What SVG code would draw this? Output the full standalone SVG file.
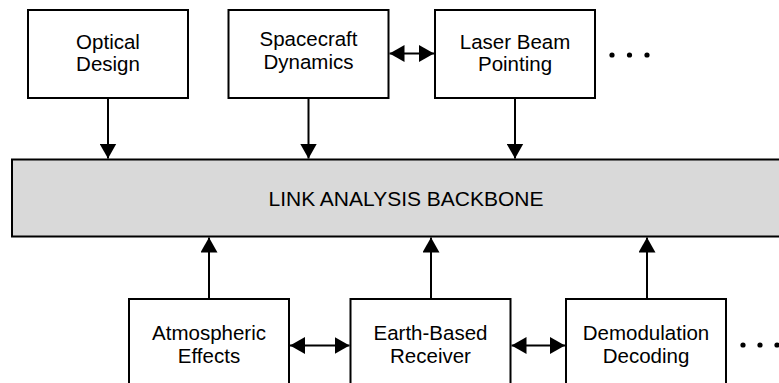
<svg xmlns="http://www.w3.org/2000/svg" width="779" height="383" viewBox="0 0 779 383">
  <style>
    .box { fill: #ffffff; stroke: #000000; stroke-width: 2; }
    .backbone { fill: #d9d9d9; stroke: #000000; stroke-width: 2; }
    .label { font-family: "Liberation Sans", Arial, sans-serif; font-size: 20.5px; fill: #000000; text-anchor: middle; }
    .title { font-family: "Liberation Sans", Arial, sans-serif; font-size: 21px; fill: #000000; text-anchor: middle; }
    .link { stroke: #000000; stroke-width: 2; fill: none; }
    .dot { fill: #000000; }
  </style>
  <defs>
    <marker id="arrow" markerUnits="userSpaceOnUse" markerWidth="15" markerHeight="17" refX="15" refY="8.5" orient="auto-start-reverse">
      <path d="M0,0 L15,8.5 L0,17 z" fill="#000000"/>
    </marker>
  </defs>

  <!-- central backbone bar -->
  <g id="backbone">
    <rect class="backbone" x="12" y="159.5" width="780" height="77"/>
    <text class="title" x="406" y="205.5">LINK ANALYSIS BACKBONE</text>
  </g>

  <!-- upper row -->
  <g id="optical-design">
    <rect class="box" x="28" y="10" width="160" height="88"/>
    <text class="label" x="108" y="49.3">Optical</text>
    <text class="label" x="108" y="71.3">Design</text>
  </g>
  <g id="spacecraft-dynamics">
    <rect class="box" x="228.5" y="10" width="160" height="88"/>
    <text class="label" x="308.5" y="46">Spacecraft</text>
    <text class="label" x="308.5" y="69.3">Dynamics</text>
  </g>
  <g id="laser-beam-pointing">
    <rect class="box" x="435" y="10" width="160" height="88"/>
    <text class="label" x="515" y="49.3">Laser Beam</text>
    <text class="label" x="515" y="71.3">Pointing</text>
  </g>
  <g id="upper-more">
    <circle class="dot" cx="612" cy="55" r="2.6"/>
    <circle class="dot" cx="629.5" cy="55" r="2.6"/>
    <circle class="dot" cx="647" cy="55" r="2.6"/>
  </g>

  <!-- lower row -->
  <g id="atmospheric-effects">
    <rect class="box" x="129" y="299" width="160" height="100"/>
    <text class="label" x="209" y="340">Atmospheric</text>
    <text class="label" x="209" y="363.3">Effects</text>
  </g>
  <g id="earth-based-receiver">
    <rect class="box" x="350.5" y="299" width="160" height="100"/>
    <text class="label" x="430.5" y="340">Earth-Based</text>
    <text class="label" x="430.5" y="363.3">Receiver</text>
  </g>
  <g id="demodulation-decoding">
    <rect class="box" x="566" y="299" width="160" height="100"/>
    <text class="label" x="646" y="339.5">Demodulation</text>
    <text class="label" x="646" y="363.3">Decoding</text>
  </g>
  <g id="lower-more">
    <circle class="dot" cx="743" cy="345" r="2.6"/>
    <circle class="dot" cx="760" cy="345" r="2.6"/>
    <circle class="dot" cx="777" cy="345" r="2.6"/>
  </g>

  <!-- connectors -->
  <g id="connectors">
    <line class="link" x1="108" y1="98" x2="108" y2="158.5" marker-end="url(#arrow)"/>
    <line class="link" x1="308.5" y1="98" x2="308.5" y2="158.5" marker-end="url(#arrow)"/>
    <line class="link" x1="515" y1="98" x2="515" y2="158.5" marker-end="url(#arrow)"/>
    <line class="link" x1="389.5" y1="53.5" x2="434" y2="53.5" marker-start="url(#arrow)" marker-end="url(#arrow)"/>

    <line class="link" x1="209" y1="298" x2="209" y2="237.5" marker-end="url(#arrow)"/>
    <line class="link" x1="431" y1="298" x2="431" y2="237.5" marker-end="url(#arrow)"/>
    <line class="link" x1="647" y1="298" x2="647" y2="237.5" marker-end="url(#arrow)"/>
    <line class="link" x1="290" y1="345.5" x2="349.5" y2="345.5" marker-start="url(#arrow)" marker-end="url(#arrow)"/>
    <line class="link" x1="511.5" y1="345.5" x2="565" y2="345.5" marker-start="url(#arrow)" marker-end="url(#arrow)"/>
  </g>
</svg>
